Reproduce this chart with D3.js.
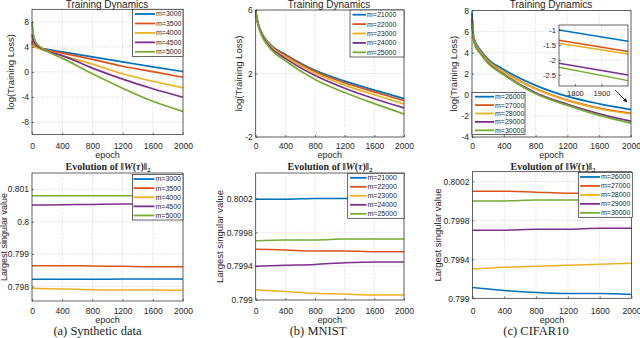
<!DOCTYPE html>
<html>
<head>
<meta charset="utf-8">
<script src="https://cdn.jsdelivr.net/npm/d3@7"></script>
<style>
  body { margin: 0; background: #fff; }
  svg text { font-family: "Liberation Sans", Arial, sans-serif; fill: #262626; }
  .serif { font-family: "Liberation Serif", "DejaVu Serif", serif !important; }
</style>
</head>
<body>
<svg id="chart" width="640" height="338"></svg>
<script>
// ---- data ----
const epochs = [0, 20, 50, 100, 200, 400, 800, 1200, 1600, 2000];
const xTicks = [0, 400, 800, 1200, 1600, 2000];
const colors = ["#0072BD", "#D95319", "#EDB120", "#7E2F8E", "#77AC30"];

const synthNames = ["m=3000", "m=3500", "m=4000", "m=4500", "m=5000"];
const synthLoss = [
  [4.6, 4.2, 4.0, 3.85, 3.6, 3.2, 2.4, 1.6, 0.8, 0.05],
  [5.0, 4.4, 4.1, 3.85, 3.5, 3.0, 2.0, 0.9, 0.05, -0.85],
  [4.4, 4.1, 3.9, 3.7, 3.3, 2.6, 1.25, -0.3, -1.5, -2.55],
  [6.0, 5.0, 4.4, 3.9, 3.3, 2.6, 0.6, -1.15, -2.7, -4.05],
  [8.0, 6.0, 4.8, 4.1, 3.3, 2.2, -0.3, -2.6, -4.7, -6.3]
];
const synthYTicks = [8, 4, 0, -4, -8];

const mnistNames = ["m=21000", "m=22000", "m=23000", "m=24000", "m=25000"];
const mnistLoss = [
  [6.0, 5.4, 4.9, 4.4, 3.8, 3.2, 2.2, 1.52, 0.95, 0.42],
  [6.0, 5.4, 4.88, 4.37, 3.76, 3.15, 2.13, 1.42, 0.84, 0.29],
  [5.95, 5.37, 4.85, 4.33, 3.71, 3.06, 2.02, 1.27, 0.66, 0.08],
  [5.95, 5.35, 4.82, 4.27, 3.64, 2.95, 1.87, 1.07, 0.41, -0.17],
  [5.9, 5.3, 4.75, 4.2, 3.55, 2.8, 1.62, 0.8, 0.1, -0.55]
];
const mnistYTicks = [6, 2, -2];

const cifarNames = ["m=26000", "m=27000", "m=28000", "m=29000", "m=30000"];
const cifarLoss = [
  [7.8, 5.6, 4.9, 4.3, 3.4, 2.4, 0.9, -0.15, -0.85, -1.4],
  [7.3, 5.45, 4.75, 4.17, 3.25, 2.2, 0.6, -0.5, -1.25, -1.75],
  [7.0, 5.4, 4.7, 4.12, 3.2, 2.15, 0.55, -0.55, -1.32, -1.82],
  [7.2, 5.25, 4.55, 4.0, 3.05, 1.95, 0.2, -0.9, -1.8, -2.5],
  [6.8, 5.2, 4.5, 3.95, 3.0, 1.9, 0.1, -1.0, -1.95, -2.68]
];
const cifarYTicks = [8, 6, 4, 2, 0, -2, -4];

// zoomed inset of the CIFAR10 loss
const insetEpochs = [1740, 2000];
const insetLoss = [
  [-1.0, -1.37],
  [-1.34, -1.72],
  [-1.44, -1.8],
  [-2.11, -2.5],
  [-2.24, -2.69]
];
const insetXTicks = [1800, 1900];
const insetYTicks = [-1, -1.5, -2, -2.5];

// largest singular value
const svEpochs = [0, 400, 800, 1200, 1600, 2000];
const synthSV = [
  [0.79822, 0.79822, 0.79822, 0.79823, 0.79823, 0.79823],
  [0.79864, 0.79864, 0.79863, 0.79862, 0.79861, 0.79861],
  [0.79794, 0.79792, 0.79790, 0.79789, 0.79789, 0.79788],
  [0.80051, 0.80052, 0.80053, 0.80054, 0.80054, 0.80055],
  [0.80080, 0.80080, 0.80080, 0.80080, 0.80080, 0.80080]
];
const synthSVTicks = [0.801, 0.8, 0.799, 0.798];

const mnistSV = [
  [0.80019, 0.80019, 0.80020, 0.80020, 0.80020, 0.80020],
  [0.79960, 0.79959, 0.79958, 0.79958, 0.79957, 0.79957],
  [0.79912, 0.79910, 0.79908, 0.79907, 0.79906, 0.79906],
  [0.79940, 0.79941, 0.79942, 0.79944, 0.79945, 0.79945],
  [0.79970, 0.79971, 0.79971, 0.79972, 0.79972, 0.79972]
];
const cifarSV = [
  [0.79911, 0.79908, 0.79906, 0.79905, 0.79905, 0.79904],
  [0.80010, 0.80010, 0.80009, 0.80008, 0.80008, 0.80008],
  [0.79930, 0.79932, 0.79933, 0.79934, 0.79935, 0.79936],
  [0.79970, 0.79970, 0.79971, 0.79971, 0.79972, 0.79972],
  [0.80000, 0.80000, 0.80001, 0.80001, 0.80001, 0.80001]
];
const smallSVTicks = [0.8002, 0.7998, 0.7994, 0.799];

const captions = ["(a) Synthetic data", "(b) MNIST", "(c) CIFAR10"];

const svg = d3.select("#chart");

function drawPanel(p) {
  const x = d3.scaleLinear().domain(p.xDomain || [0, 2000]).range([p.x0, p.x1]);
  const y = d3.scaleLinear().domain(p.yDomain).range([p.y1, p.y0]);
  const g = svg.append("g");

  if (p.bg) {
    g.append("rect").attr("x", p.x0).attr("y", p.y0)
      .attr("width", p.x1 - p.x0).attr("height", p.y1 - p.y0).attr("fill", "#fff");
  }

  // grid
  g.append("g").selectAll("line").data(p.xTicks).enter().append("line")
    .attr("x1", d => x(d)).attr("x2", d => x(d))
    .attr("y1", p.y0).attr("y2", p.y1)
    .attr("stroke", "#bcbcbc").attr("stroke-width", 0.6).attr("stroke-dasharray", "1,1.5");
  g.append("g").selectAll("line").data(p.yTicks).enter().append("line")
    .attr("y1", d => y(d)).attr("y2", d => y(d))
    .attr("x1", p.x0).attr("x2", p.x1)
    .attr("stroke", "#bcbcbc").attr("stroke-width", 0.6).attr("stroke-dasharray", "1,1.5");

  // lines
  const line = d3.line()
    .x((d, i) => x(p.xs[i]))
    .y(d => y(d))
    .curve(d3.curveMonotoneX);
  g.append("g").selectAll("path").data(p.series).enter().append("path")
    .attr("d", line)
    .attr("fill", "none")
    .attr("stroke", (d, i) => colors[i])
    .attr("stroke-width", p.lw || 1.7);

  // axes
  const fs = p.fontSize || 8.5;
  const xa = g.append("g").attr("transform", `translate(0,${p.y1})`)
    .call(d3.axisBottom(x).tickValues(p.xTicks).tickSize(-2).tickPadding(5).tickFormat(d3.format("d")));
  const ya = g.append("g").attr("transform", `translate(${p.x0},0)`)
    .call(d3.axisLeft(y).tickValues(p.yTicks).tickSize(-2).tickPadding(3).tickFormat(p.yFormat || (d => d)));
  [xa, ya].forEach(a => {
    a.select(".domain").remove();
    a.selectAll("line").attr("stroke", "#262626").attr("stroke-width", 0.6);
    a.selectAll("text").attr("font-size", fs).attr("fill", "#262626")
      .style("font-family", "'Liberation Sans', Arial, sans-serif");
  });
  // place x tick labels at a fixed baseline for the whole row
  if (p.tickY) {
    xa.selectAll("text").attr("y", p.tickY - p.y1).attr("dy", 0);
  }

  // box
  g.append("rect").attr("x", p.x0).attr("y", p.y0)
    .attr("width", p.x1 - p.x0).attr("height", p.y1 - p.y0)
    .attr("fill", "none").attr("stroke", "#262626").attr("stroke-width", 0.7);

  if (p.xLabel) {
    g.append("text").attr("x", (p.x0 + p.x1) / 2).attr("y", p.xLabelY)
      .attr("text-anchor", "middle").attr("font-size", 9).text(p.xLabel);
  }
  if (p.yLabel) {
    g.append("text")
      .attr("transform", `translate(${p.yLabelX},${(p.y0 + p.y1) / 2}) rotate(-90)`)
      .attr("text-anchor", "middle").attr("font-size", p.yLabelSize || 9.5).text(p.yLabel);
  }
  if (p.names) drawLegend(p.legend, p.names);
  return { x, y };
}

function drawLegend(L, names) {
  const g = svg.append("g");
  g.append("rect").attr("x", L.x0).attr("y", L.y0)
    .attr("width", L.x1 - L.x0).attr("height", L.y1 - L.y0)
    .attr("fill", "#fff").attr("stroke", "#262626").attr("stroke-width", 0.7);
  const step = (L.y1 - L.y0) / names.length;
  names.forEach((n, i) => {
    const cy = L.y0 + step * (i + 0.5);
    g.append("line").attr("x1", L.lx0).attr("x2", L.lx1).attr("y1", cy).attr("y2", cy)
      .attr("stroke", colors[i]).attr("stroke-width", 1.8);
    g.append("text").attr("x", L.lx1 + 1).attr("y", cy + 2.4)
      .attr("font-size", 7).text(n);
  });
}

function topTitle(cx) {
  svg.append("text").attr("x", cx).attr("y", 7.5).attr("text-anchor", "middle")
    .attr("font-size", 10).text("Training Dynamics");
}

function svTitle(cx) {
  const t = svg.append("text").attr("class", "serif").attr("x", cx).attr("y", 169.5)
    .attr("text-anchor", "middle").attr("font-size", 10).attr("font-weight", "bold");
  t.append("tspan").text("Evolution of \u2016");
  t.append("tspan").attr("font-style", "italic").text("W");
  t.append("tspan").text("(");
  t.append("tspan").attr("font-style", "italic").text("\u03C4");
  t.append("tspan").text(")\u2016");
  t.append("tspan").attr("font-size", 7).attr("dy", 2).text("2");
}

const topTickY = 148.5, topLabelY = 158;
const botTickY = 314, botLabelY = 322.5;

// ---- top row: training loss ----
drawPanel({
  x0: 32, x1: 183, y0: 9.3, y1: 134.5, yDomain: [-10, 10],
  xTicks, yTicks: synthYTicks, xs: epochs, series: synthLoss,
  tickY: topTickY, xLabel: "epoch", xLabelY: topLabelY,
  yLabel: "log(Training Loss)", yLabelX: 14,
  names: synthNames,
  legend: { x0: 132.5, x1: 183, y0: 9.3, y1: 56.5, lx0: 135, lx1: 155 }
});
topTitle(107);

drawPanel({
  x0: 255.7, x1: 404, y0: 10, y1: 137, yDomain: [-2, 6],
  xTicks, yTicks: mnistYTicks, xs: epochs, series: mnistLoss,
  tickY: topTickY, xLabel: "epoch", xLabelY: topLabelY,
  yLabel: "log(Training Loss)", yLabelX: 241.5,
  names: mnistNames,
  legend: { x0: 350, x1: 404, y0: 10, y1: 57, lx0: 352.5, lx1: 366 }
});
topTitle(329);

drawPanel({
  x0: 472, x1: 631, y0: 10.5, y1: 137, yDomain: [-4, 8],
  xTicks, yTicks: cifarYTicks, xs: epochs, series: cifarLoss,
  tickY: topTickY, xLabel: "epoch", xLabelY: topLabelY,
  yLabel: "log(Training Loss)", yLabelX: 456.5,
  names: cifarNames,
  legend: { x0: 472, x1: 525, y0: 92.5, y1: 134.5, lx0: 475, lx1: 494 }
});
topTitle(551);

// inset
drawPanel({
  x0: 559, x1: 628, y0: 25, y1: 86, xDomain: [1740, 2000], yDomain: [-2.87, -0.83],
  xTicks: insetXTicks, yTicks: insetYTicks, xs: insetEpochs, series: insetLoss,
  bg: true, fontSize: 7.5, lw: 1.5
});

// arrow pointing to the zoomed region
svg.append("defs").append("marker")
  .attr("id", "arr").attr("viewBox", "0 0 10 10").attr("refX", 9).attr("refY", 5)
  .attr("markerWidth", 5).attr("markerHeight", 5).attr("orient", "auto")
  .append("path").attr("d", "M0,0 L10,5 L0,10 z").attr("fill", "#111");
svg.append("line").attr("x1", 615).attr("y1", 90).attr("x2", 627).attr("y2", 102)
  .attr("stroke", "#111").attr("stroke-width", 0.8).attr("marker-end", "url(#arr)");

// ---- bottom row: largest singular value ----
drawPanel({
  x0: 32, x1: 183, y0: 173, y1: 301, yDomain: [0.79755, 0.8015],
  xTicks, yTicks: synthSVTicks, xs: svEpochs, series: synthSV, lw: 1.5,
  yFormat: d3.format(".3~f"),
  tickY: botTickY, xLabel: "epoch", xLabelY: botLabelY,
  yLabel: "Largest singular value", yLabelX: 6.5, yLabelSize: 9,
  names: synthNames,
  legend: { x0: 132.5, x1: 183, y0: 174.5, y1: 220, lx0: 133.5, lx1: 154.5 }
});
drawPanel({
  x0: 255.7, x1: 404, y0: 173, y1: 300, yDomain: [0.799, 0.8005],
  xTicks, yTicks: smallSVTicks, xs: svEpochs, series: mnistSV, lw: 1.5,
  yFormat: d3.format(".4~f"),
  tickY: botTickY, xLabel: "epoch", xLabelY: botLabelY,
  yLabel: "Largest singular value", yLabelX: 223,
  names: mnistNames,
  legend: { x0: 347.7, x1: 404, y0: 173.3, y1: 218.3, lx0: 350, lx1: 366.5 }
});
drawPanel({
  x0: 472.5, x1: 631.5, y0: 171.7, y1: 298.3, yDomain: [0.799, 0.8003],
  xTicks, yTicks: smallSVTicks, xs: svEpochs, series: cifarSV, lw: 1.5,
  yFormat: d3.format(".4~f"),
  tickY: botTickY, xLabel: "epoch", xLabelY: botLabelY,
  yLabel: "Largest singular value", yLabelX: 441,
  names: cifarNames,
  legend: { x0: 578.3, x1: 632.3, y0: 172.5, y1: 217.3, lx0: 580, lx1: 600 }
});

svTitle(108);
svTitle(330);
svTitle(553);

// captions
[97.5, 318, 536].forEach((cx, i) => {
  svg.append("text").attr("class", "serif").attr("x", cx).attr("y", 335)
    .attr("text-anchor", "middle").attr("font-size", 12.5).text(captions[i]);
});
</script>
</body>
</html>
